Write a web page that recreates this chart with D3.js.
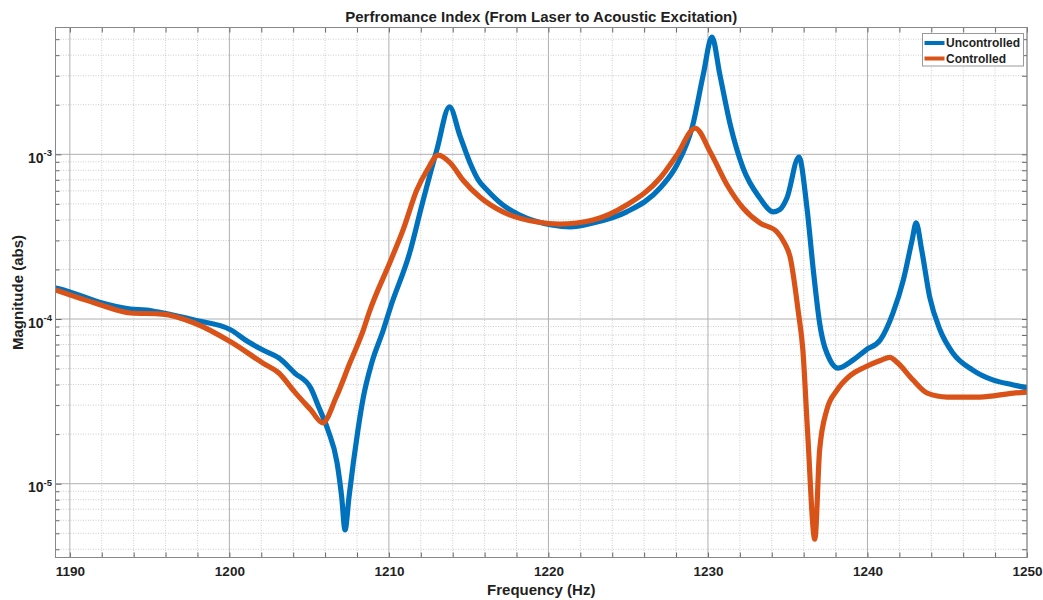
<!DOCTYPE html>
<html>
<head>
<meta charset="utf-8">
<script src="https://cdn.jsdelivr.net/npm/d3@7"></script>
<style>
  body { margin: 0; background: #fff; }
  text { font-family: "Liberation Sans", Arial, Helvetica, sans-serif; font-weight: bold; fill: #1f1f1f; }
</style>
</head>
<body>
<script>
// Chart data
var freqUncontrolled = [1189.1, 1189.8, 1191.8, 1193.8, 1194.8, 1195.8, 1197.8, 1200.1, 1201.0, 1202.1,
  1203.1, 1204.1, 1205.1, 1205.6, 1206.18, 1206.75, 1207.04, 1207.25, 1207.5, 1207.77,
  1208.06, 1208.4, 1208.92, 1209.65, 1210.1, 1211.3, 1212.1, 1213.0, 1213.8, 1214.45,
  1215.1, 1215.6, 1216.15, 1217.15, 1218.2, 1220.2, 1221.35, 1222.8, 1224.9, 1227.0,
  1228.05, 1229.05, 1229.7, 1230.25, 1230.75, 1231.4, 1232.2, 1233.25, 1234.1, 1234.5,
  1234.95, 1235.7, 1236.2, 1236.6, 1237.0, 1237.65, 1238.15, 1239.1, 1239.9, 1240.8,
  1241.6, 1242.25, 1242.8, 1243.05, 1243.4, 1243.9, 1244.55, 1245.35, 1246.6, 1247.85,
  1249.15, 1250.0];
var magUncontrolled = [1.54e-4, 1.48e-4, 1.27e-4, 1.15e-4, 1.135e-4, 1.09e-4, 9.86e-5, 8.58e-5, 7.46e-5, 6.48e-5,
  5.80e-5, 4.70e-5, 3.81e-5, 2.92e-5, 2.12e-5, 1.34e-5, 8.3e-6, 5.24e-6, 8.3e-6, 1.34e-5,
  2.12e-5, 3.36e-5, 5.40e-5, 8.58e-5, 1.18e-4, 2.52e-4, 5.06e-4, 1.06e-3, 1.94e-3, 1.30e-3,
  8.8e-4, 7.0e-4, 6.07e-4, 4.92e-4, 4.28e-4, 3.72e-4, 3.62e-4, 3.83e-4, 4.47e-4, 6.24e-4,
  8.61e-4, 1.51e-3, 3.03e-3, 5.15e-3, 3.03e-3, 1.51e-3, 8.26e-4, 5.43e-4, 4.47e-4, 4.61e-4,
  5.43e-4, 9.63e-4, 4.79e-4, 2.0e-4, 9.46e-5, 5.64e-5, 5.04e-5, 5.64e-5, 6.48e-5, 7.46e-5,
  1.09e-4, 1.73e-4, 3.02e-4, 3.83e-4, 2.62e-4, 1.36e-4, 8.58e-5, 6.22e-5, 4.90e-5, 4.27e-5,
  3.98e-5, 3.81e-5];

var freqControlled = [1189.1, 1191.8, 1193.8, 1195.8, 1197.8, 1200.1, 1202.1, 1203.1, 1204.1, 1205.1,
  1205.85, 1206.7, 1207.55, 1208.4, 1208.75, 1210.1, 1210.9, 1211.75, 1212.4, 1213.1,
  1213.85, 1214.65, 1215.7, 1217.15, 1219.3, 1220.7, 1222.8, 1224.9, 1227.0, 1228.05,
  1229.2, 1230.15, 1231.2, 1232.2, 1233.25, 1234.3, 1234.8, 1235.15, 1235.65, 1235.95,
  1236.25, 1236.7, 1237.0, 1237.45, 1238.1, 1238.9, 1239.85, 1240.8, 1241.4, 1241.9, 1242.85,
  1243.75, 1245.0, 1247.05, 1249.15, 1250.0];
var magControlled = [1.50e-4, 1.23e-4, 1.088e-4, 1.072e-4, 9.46e-5, 7.25e-5, 5.40e-5, 4.70e-5, 3.60e-5, 2.81e-5,
  2.34e-5, 3.36e-5, 5.40e-5, 8.58e-5, 1.088e-4, 2.25e-4, 3.5e-4, 6.07e-4, 8.03e-4, 9.90e-4,
  8.86e-4, 6.96e-4, 5.51e-4, 4.47e-4, 3.88e-4, 3.77e-4, 3.99e-4, 4.92e-4, 7.18e-4, 9.90e-4,
  1.44e-3, 1.03e-3, 6.51e-4, 4.72e-4, 3.83e-4, 3.4e-4, 2.89e-4, 2.38e-4, 1.13e-4, 6.48e-5,
  2.03e-5, 4.6e-6, 1.6e-5, 2.81e-5, 3.71e-5, 4.52e-5, 5.11e-5, 5.6e-5, 5.85e-5, 5.4e-5, 4.27e-5,
  3.55e-5, 3.36e-5, 3.36e-5, 3.55e-5, 3.60e-5];

var seriesNames = ["Uncontrolled", "Controlled"];
var seriesColors = ["#0072BD", "#D95319"];

var xMajorTicks = [1190, 1200, 1210, 1220, 1230, 1240, 1250];
var xMinorTicks = [1192, 1194, 1196, 1198, 1202, 1204, 1206, 1208, 1212, 1214, 1216, 1218,
  1222, 1224, 1226, 1228, 1232, 1234, 1236, 1238, 1242, 1244, 1246, 1248];
var yMajorTicks = [1e-5, 1e-4, 1e-3];
var yTickExponents = ["-5", "-4", "-3"];
var yMinorMultipliers = [2, 3, 4, 5, 6, 7, 8, 9];

var titleText = "Perfromance Index (From Laser to Acoustic Excitation)";
var xLabelText = "Frequency (Hz)";
var yLabelText = "Magnitude (abs)";

// SVG and chart area
var svgWidth = 1043;
var svgHeight = 600;

var chartMargin = { top: 27.5, left: 55.5 };
var chartWidth = 971.5;
var chartHeight = 530;

var svg = d3.select("body")
  .append("svg")
  .attr("width", svgWidth)
  .attr("height", svgHeight);

var chartGroup = svg.append("g")
  .attr("transform", `translate(${chartMargin.left}, ${chartMargin.top})`);

// Scales
var xScale = d3.scaleLinear()
  .domain([1189.1, 1250])
  .range([0, chartWidth]);

var yScale = d3.scaleLog()
  .domain([Math.pow(10, -5.448), Math.pow(10, -2.230)])
  .range([chartHeight, 0]);

var yMinorTicks = [];
[-6, -5, -4, -3].forEach(function(e) {
  yMinorMultipliers.forEach(function(m) {
    var v = m * Math.pow(10, e);
    if (v > yScale.domain()[0] && v < yScale.domain()[1]) yMinorTicks.push(v);
  });
});

// Grid lines
var grid = chartGroup.append("g");

grid.selectAll(".xminor")
  .data(xMinorTicks)
  .enter()
  .append("line")
  .attr("x1", d => xScale(d)).attr("x2", d => xScale(d))
  .attr("y1", 0).attr("y2", chartHeight)
  .attr("stroke", "#cdcdcd")
  .attr("stroke-dasharray", "1,1.5");

grid.selectAll(".yminor")
  .data(yMinorTicks)
  .enter()
  .append("line")
  .attr("x1", 0).attr("x2", chartWidth)
  .attr("y1", d => yScale(d)).attr("y2", d => yScale(d))
  .attr("stroke", "#cdcdcd")
  .attr("stroke-dasharray", "1,1.5");

grid.selectAll(".xmajor")
  .data(xMajorTicks)
  .enter()
  .append("line")
  .attr("x1", d => xScale(d)).attr("x2", d => xScale(d))
  .attr("y1", 0).attr("y2", chartHeight)
  .attr("stroke", "#b0b0b0");

grid.selectAll(".ymajor")
  .data(yMajorTicks)
  .enter()
  .append("line")
  .attr("x1", 0).attr("x2", chartWidth)
  .attr("y1", d => yScale(d)).attr("y2", d => yScale(d))
  .attr("stroke", "#b0b0b0");

// Axes (ticks point inward, box drawn separately)
var bottomAxis = d3.axisBottom(xScale).tickValues(xMajorTicks).tickFormat(d3.format("d"))
  .tickSizeInner(-5).tickSizeOuter(0).tickPadding(9);
var topAxis = d3.axisTop(xScale).tickValues(xMajorTicks.concat(xMinorTicks)).tickFormat("")
  .tickSizeInner(-5).tickSizeOuter(0);
var bottomMinor = d3.axisBottom(xScale).tickValues(xMinorTicks).tickFormat("")
  .tickSizeInner(-5).tickSizeOuter(0);
var leftAxis = d3.axisLeft(yScale).tickValues(yMajorTicks).tickFormat("")
  .tickSizeInner(-6).tickSizeOuter(0);
var leftMinor = d3.axisLeft(yScale).tickValues(yMinorTicks).tickFormat("")
  .tickSizeInner(-4).tickSizeOuter(0);
var rightAxis = d3.axisRight(yScale).tickValues(yMajorTicks.concat(yMinorTicks)).tickFormat("")
  .tickSizeInner(-5).tickSizeOuter(0);

var xAxisG = chartGroup.append("g")
  .attr("transform", `translate(0, ${chartHeight})`)
  .call(bottomAxis);
chartGroup.append("g").attr("transform", `translate(0, ${chartHeight})`).call(bottomMinor);
chartGroup.append("g").call(topAxis);
chartGroup.append("g").call(leftAxis);
chartGroup.append("g").call(leftMinor);
chartGroup.append("g").attr("transform", `translate(${chartWidth}, 0)`).call(rightAxis);

chartGroup.selectAll(".domain").remove();
chartGroup.selectAll(".tick line").attr("stroke", "#666");

xAxisG.selectAll("text")
  .attr("font-size", 13.5)
  .attr("font-family", null)
  .attr("fill", "#1f1f1f");

// y tick labels as 10 with superscript exponent
yMajorTicks.forEach(function(v, i) {
  var t = chartGroup.append("text")
    .attr("x", -3.5)
    .attr("y", yScale(v) + 8.5)
    .attr("text-anchor", "end")
    .attr("font-size", 14);
  t.append("tspan").text("10");
  t.append("tspan").attr("font-size", 9.5).attr("dy", -6.5).text(yTickExponents[i]);
});

// Data lines
var lineGen = d3.line()
  .x(d => xScale(d.f))
  .y(d => yScale(d.m))
  .curve(d3.curveMonotoneX);

chartGroup.append("clipPath").attr("id", "plotclip")
  .append("rect").attr("width", chartWidth).attr("height", chartHeight);

var seriesData = [
  freqUncontrolled.map((f, i) => ({ f: f, m: magUncontrolled[i] })),
  freqControlled.map((f, i) => ({ f: f, m: magControlled[i] }))
];

chartGroup.append("g")
  .attr("clip-path", "url(#plotclip)")
  .selectAll("path")
  .data(seriesData)
  .enter()
  .append("path")
  .attr("d", lineGen)
  .attr("fill", "none")
  .attr("stroke", (d, i) => seriesColors[i])
  .attr("stroke-width", 5.2)
  .attr("stroke-linejoin", "round")
  .attr("stroke-linecap", "round");

// Axes box
chartGroup.append("rect")
  .attr("width", chartWidth)
  .attr("height", chartHeight)
  .attr("fill", "none")
  .attr("stroke", "#888");

// Legend
var legend = svg.append("g").attr("transform", "translate(922.5, 33.5)");
legend.append("rect")
  .attr("width", 101)
  .attr("height", 32.5)
  .attr("fill", "#fff")
  .attr("stroke", "#999");
seriesNames.forEach(function(name, i) {
  legend.append("line")
    .attr("x1", 2).attr("x2", 22)
    .attr("y1", 9.5 + i * 15.5).attr("y2", 9.5 + i * 15.5)
    .attr("stroke", seriesColors[i])
    .attr("stroke-width", 4);
  legend.append("text")
    .attr("x", 23.5)
    .attr("y", 13.5 + i * 15.5)
    .attr("font-size", 12)
    .text(name);
});

// Title and axis labels
svg.append("text")
  .attr("x", chartMargin.left + chartWidth / 2)
  .attr("y", 22)
  .attr("text-anchor", "middle")
  .attr("font-size", 15)
  .text(titleText);

svg.append("text")
  .attr("x", chartMargin.left + chartWidth / 2)
  .attr("y", 595)
  .attr("text-anchor", "middle")
  .attr("font-size", 15)
  .text(xLabelText);

svg.append("text")
  .attr("transform", `translate(23, ${chartMargin.top + chartHeight / 2}) rotate(-90)`)
  .attr("text-anchor", "middle")
  .attr("font-size", 15)
  .text(yLabelText);
</script>
</body>
</html>
